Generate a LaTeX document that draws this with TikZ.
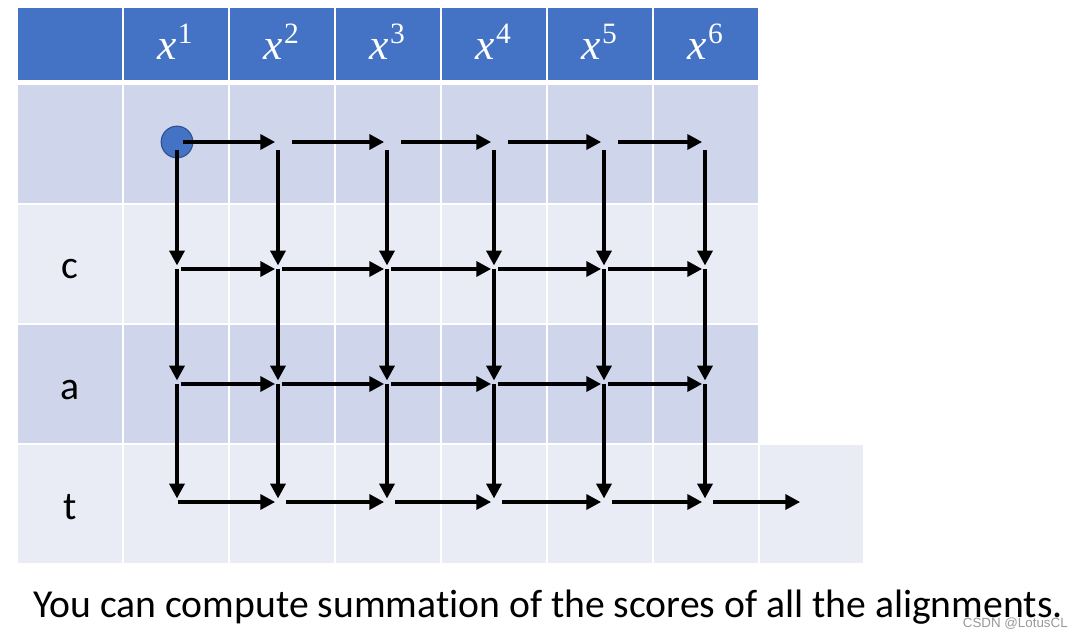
\documentclass[tikz,border=0pt]{standalone}
\usepackage{fontspec}
\setmainfont{Carlito}[Ligatures=NoCommon]
\newfontfamily\markfont{Liberation Sans}
\newfontfamily\varfont{Liberation Serif}
\usetikzlibrary{arrows.meta}
\definecolor{TblBlue}{RGB}{68,114,196}
\definecolor{TblDark}{RGB}{207,213,234}
\definecolor{TblLight}{RGB}{233,235,245}
\definecolor{DotEdge}{RGB}{47,82,143}
\newcommand{\xvar}[1]{{\itshape x}\kern1pt\raisebox{0.38em}{\fontsize{21}{22}\selectfont #1}}

\begin{document}
\begin{tikzpicture}[x=0.025cm, y=-0.025cm,
    head/.style={text=white, anchor=base, font=\varfont\fontsize{31}{32}\selectfont},
    rowlbl/.style={anchor=base, font=\fontsize{28.2}{30}\selectfont},
    link/.style={-{Triangle[length=10.5pt, width=10.5pt]}, line width=3.5pt},
    hstep/.style={link, shorten <=3pt, shorten >=2pt},
    vstep/.style={link, shorten >=2.5pt}
  ]
  \useasboundingbox (0,0) rectangle (1082,636);

  % table cells
  \foreach \k in {0,...,6}{
    \fill[TblBlue] (18+106*\k, 8) rectangle ++(104, 72);
    \foreach \r in {1,...,4}{
      \pgfmathsetmacro{\shade}{isodd(\r) ? 1 : 0}
      \ifdim\shade pt>0pt
        \fill[TblDark] (18+106*\k, 85+120*\r-120) rectangle ++(104, 118);
      \else
        \fill[TblLight] (18+106*\k, 85+120*\r-120) rectangle ++(104, 118);
      \fi
    }
  }
  \fill[TblLight] (760, 445) rectangle ++(103, 118);

  % headers and row labels
  \foreach \k in {1,...,6}
    \node[head] (hd-\k) at (69+106*\k, 60) {\xvar{\k}};
  \node[rowlbl] (lb-c) at (70, 278) {c};
  \node[rowlbl] (lb-a) at (70, 399) {a};
  \node[rowlbl] (lb-t) at (70, 519) {t};

  % grid points
  \foreach \x [count=\c] in {177,278,387,494,604,705}{
    \foreach \y [count=\r from 0] in {142,269,384,502}
      \coordinate (g-\r-\c) at (\x,\y);
  }
  \coordinate (g-3-7) at (803,502);

  \node[circle, fill=TblBlue, draw=DotEdge, line width=0.8pt,
        minimum size=22.5pt, inner sep=0pt] (start) at (g-0-1) {};

  % horizontal steps
  \draw[hstep, shorten <=4pt] (g-0-1) -- (g-0-2);
  \foreach \c/\n in {2/3,3/4,4/5,5/6}
    \draw[hstep, shorten <=10pt] (g-0-\c) -- (g-0-\n);
  \foreach \r in {1,2}{
    \foreach \c/\n in {1/2,2/3,3/4,4/5,5/6}
      \draw[hstep] (g-\r-\c) -- (g-\r-\n);
  }
  \draw[hstep, shorten <=1pt] (g-3-1) -- (g-3-2);
  \foreach \c/\n in {2/3,3/4,4/5,5/6,6/7}
    \draw[hstep, shorten <=6pt] (g-3-\c) -- (g-3-\n);

  % vertical steps
  \foreach \c in {1,...,6}{
    \draw[vstep, shorten <=6pt] (g-0-\c) -- (g-1-\c);
    \draw[vstep] (g-1-\c) -- (g-2-\c);
    \draw[vstep] (g-2-\c) -- (g-3-\c);
  }

  \node[rowlbl, anchor=base west, inner sep=0pt] (note) at (33, 617)
    {You can compute summation of the scores of all the alignments.};
  \node[anchor=base east, inner sep=0pt, text=black!40,
        font=\markfont\fontsize{9.5}{11}\selectfont] (mark) at (1068, 627)
    {CSDN @LotusCL};
\end{tikzpicture}
\end{document}
